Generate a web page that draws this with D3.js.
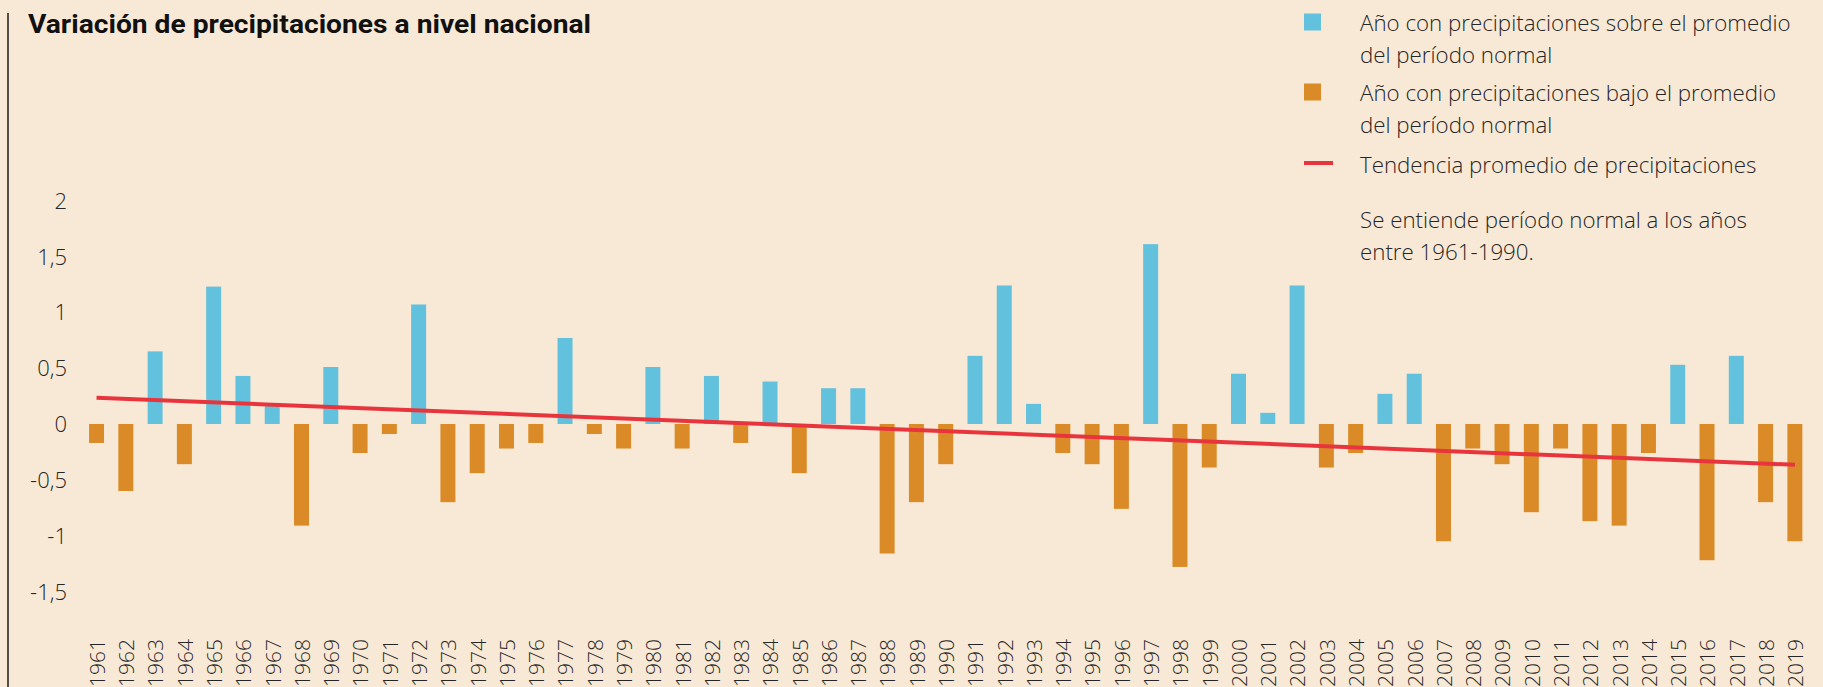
<!DOCTYPE html>
<html>
<head>
<meta charset="utf-8">
<script src="https://cdn.jsdelivr.net/npm/d3@7"></script>
<style>
	body { margin: 0; background: #f8e9d6; }
	text { font-family: "Open Sans", Lato, sans-serif; fill: #262626; }
	.title { font-family: Roboto, "Open Sans", sans-serif; font-weight: 700; fill: #111; }
</style>
</head>
<body>
<div id="chart-container"></div>
<script>
/*
DATA
*/
const years = d3.range(1961, 2020).map(String);
const values = [
	-0.17, -0.6, 0.65, -0.36, 1.23, 0.43, 0.17, -0.91, 0.51, -0.26,
	-0.09, 1.07, -0.7, -0.44, -0.22, -0.17, 0.77, -0.09, -0.22, 0.51,
	-0.22, 0.43, -0.17, 0.38, -0.44, 0.32, 0.32, -1.16, -0.7, -0.36,
	0.61, 1.24, 0.18, -0.26, -0.36, -0.76, 1.61, -1.28, -0.39, 0.45,
	0.1, 1.24, -0.39, -0.26, 0.27, 0.45, -1.05, -0.22, -0.36, -0.79,
	-0.22, -0.87, -0.91, -0.26, 0.53, -1.22, 0.61, -0.7, -1.05
];
const trendYears = ["1961", "2019"];
const trendValues = [0.235, -0.365];
const yTicks = [-1.5, -1, -0.5, 0, 0.5, 1, 1.5, 2];
const titleText = "Variación de precipitaciones a nivel nacional";
const legendLabels = [
	["Año con precipitaciones sobre el promedio", "del período normal"],
	["Año con precipitaciones bajo el promedio", "del período normal"],
	["Tendencia promedio de precipitaciones"]
];
const noteLines = ["Se entiende período normal a los años", "entre 1961-1990."];

/*
SET UP
*/
const w = 1823;
const h = 687;
const colorAbove = "#62c1dc";
const colorBelow = "#da8b27";
const colorTrend = "#e8353d";

const svg = d3
	.select("#chart-container")
	.append("svg")
	.attr("width", w)
	.attr("height", h);

svg.append("rect").attr("width", w).attr("height", h).attr("fill", "#f8e9d6");

const x = d3
	.scaleBand()
	.domain(years)
	.range([74.4, 1817])
	.paddingInner(0.488)
	.paddingOuter(0.5);

const y = d3.scaleLinear().domain([-1.5, 2]).range([591.5, 200.6]);

const locale = d3.formatLocale({ decimal: ",", thousands: ".", grouping: [3], currency: ["$", ""] });
const fmt = locale.format("");

/*
FRAME & TITLE
*/
svg
	.append("line")
	.attr("x1", 8)
	.attr("x2", 8)
	.attr("y1", 13)
	.attr("y2", h)
	.attr("stroke", "#1a1a1a")
	.attr("stroke-width", 1.5);

svg
	.append("text")
	.attr("class", "title")
	.attr("x", 28)
	.attr("y", 33)
	.attr("font-size", 25)
	.attr("textLength", 563)
	.attr("lengthAdjust", "spacingAndGlyphs")
	.text(titleText);

/*
Y AXIS
*/
const yAxis = svg
	.append("g")
	.attr("transform", "translate(67,0)")
	.call(
		d3.axisLeft(y)
			.tickValues(yTicks)
			.tickSize(0)
			.tickPadding(0)
			.tickFormat((d) => fmt(d).replace("−", "-"))
	);
yAxis.select(".domain").remove();
yAxis
	.selectAll("text")
	.attr("font-size", 22)
	.attr("font-weight", 300)
	.attr("fill", "#262626")
	.attr("dy", "0.35em")
	.style("font-family", '"Open Sans", Lato, sans-serif');

/*
BARS
*/
const data = years.map((yr, i) => ({ year: yr, value: values[i] }));

svg
	.selectAll(".bar")
	.data(data)
	.join("rect")
	.attr("class", "bar")
	.attr("x", (d) => x(d.year))
	.attr("width", x.bandwidth())
	.attr("y", (d) => y(Math.max(0, d.value)))
	.attr("height", (d) => Math.abs(y(d.value) - y(0)))
	.attr("fill", (d) => (d.value >= 0 ? colorAbove : colorBelow));

/*
TREND LINE
*/
const trend = trendYears.map((yr, i) => ({ year: yr, value: trendValues[i] }));
svg
	.append("path")
	.datum(trend)
	.attr("fill", "none")
	.attr("stroke", colorTrend)
	.attr("stroke-width", 4)
	.attr(
		"d",
		d3.line()
			.x((d) => x(d.year) + x.bandwidth() / 2)
			.y((d) => y(d.value))
	);

/*
YEAR LABELS
*/
svg
	.selectAll(".year")
	.data(years)
	.join("text")
	.attr("class", "year")
	.attr("transform", (d) => `translate(${x(d) + x.bandwidth() / 2 + 1},639) rotate(-90)`)
	.attr("text-anchor", "end")
	.attr("dy", "0.35em")
	.attr("font-size", 21)
	.attr("font-weight", 300)
	.text((d) => d);

/*
LEGEND
*/
const legend = svg.append("g").attr("transform", "translate(1304,0)");
const legendRows = [23, 93, 165];
const lineGap = 32;

legendLabels.forEach((lines, i) => {
	const cy = legendRows[i];
	if (i < 2) {
		legend
			.append("rect")
			.attr("x", 0)
			.attr("y", cy - 9.5)
			.attr("width", 17)
			.attr("height", 17)
			.attr("fill", i === 0 ? colorAbove : colorBelow);
	} else {
		legend
			.append("line")
			.attr("x1", 0)
			.attr("x2", 29)
			.attr("y1", cy - 2)
			.attr("y2", cy - 2)
			.attr("stroke", colorTrend)
			.attr("stroke-width", 4);
	}
	lines.forEach((t, j) => {
		legend
			.append("text")
			.attr("x", 56)
			.attr("y", cy + j * lineGap)
			.attr("dy", "0.35em")
			.attr("font-size", 22.3)
			.attr("font-weight", 300)
			.text(t);
	});
});

noteLines.forEach((t, j) => {
	legend
		.append("text")
		.attr("x", 56)
		.attr("y", 220 + j * lineGap)
		.attr("dy", "0.35em")
		.attr("font-size", 22.3)
		.attr("font-weight", 300)
		.text(t);
});
</script>
</body>
</html>
